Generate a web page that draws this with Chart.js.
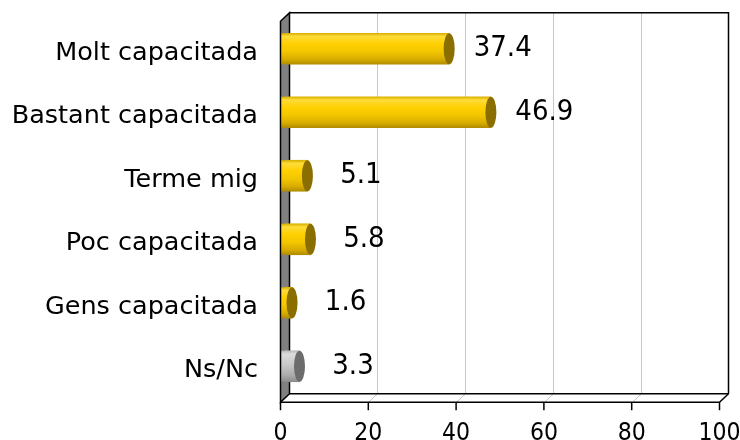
<!DOCTYPE html>
<html>
<head>
<meta charset="utf-8">
<script src="https://cdn.jsdelivr.net/npm/chart.js@4.4.1/dist/chart.umd.min.js"></script>
<style>
  html, body { margin: 0; padding: 0; background: #fff; }
  #wrap { width: 740px; height: 440px; }
</style>
</head>
<body>
<div id="wrap"><canvas id="myChart" width="740" height="440"></canvas></div>
<script>
// data
const categories = ['Molt capacitada', 'Bastant capacitada', 'Terme mig', 'Poc capacitada', 'Gens capacitada', 'Ns/Nc'];
const values = [37.4, 46.9, 5.1, 5.8, 1.6, 3.3];
const xTicks = [0, 20, 40, 60, 80, 100];
const grayCategory = 'Ns/Nc';

// 3d depth of the box (back plane is +DX,-DY from the front plane, bars sit in the middle)
const DX = 9;
const DY = 8.5;
const BAR_H = 31;

function bodyGradient(ctx, yc, gray) {
    const g = ctx.createLinearGradient(0, yc - BAR_H / 2, 0, yc + BAR_H / 2);
    if (gray) {
        g.addColorStop(0, '#b8b8b8');
        g.addColorStop(0.1, '#dcdcdc');
        g.addColorStop(0.45, '#c8c8c8');
        g.addColorStop(0.8, '#aaaaaa');
        g.addColorStop(1, '#8c8c8c');
    } else {
        g.addColorStop(0, '#d8b000');
        g.addColorStop(0.1, '#ffdc3a');
        g.addColorStop(0.35, '#ffd000');
        g.addColorStop(0.6, '#f2c600');
        g.addColorStop(0.85, '#d6ab00');
        g.addColorStop(1, '#b08c00');
    }
    return g;
}

// no automatic label padding, the box is laid out by hand
function noPad(s) {
    s.paddingTop = 0;
    s.paddingBottom = 0;
    s.paddingLeft = 0;
    s.paddingRight = 0;
}

const box3d = {
    id: 'box3d',
    beforeDatasetsDraw(chart) {
        const ctx = chart.ctx;
        const xs = chart.scales.x;
        const a = chart.chartArea;
        const fl = xs.getPixelForValue(0) - DX / 2, fr = xs.getPixelForValue(100) - DX / 2;
        const ft = a.top + DY / 2, fb = a.bottom + DY / 2;
        const bl = fl + DX, br = fr + DX, bt = ft - DY, bb = fb - DY;
        ctx.save();

        // grid lines on back wall + floor
        ctx.strokeStyle = '#c8c8c8';
        ctx.lineWidth = 1;
        xTicks.forEach(v => {
            if (v === 0 || v === 100) return;
            const x = Math.round(xs.getPixelForValue(v) + DX / 2) + 0.5;
            ctx.beginPath();
            ctx.moveTo(x, bt);
            ctx.lineTo(x, bb);
            ctx.lineTo(x - DX, fb);
            ctx.stroke();
        });

        ctx.strokeStyle = '#000';
        ctx.lineWidth = 1.5;
        // back wall top/right edges and back floor edge
        ctx.beginPath();
        ctx.moveTo(bl, bt);
        ctx.lineTo(br, bt);
        ctx.lineTo(br, bb);
        ctx.moveTo(bl, bb);
        ctx.lineTo(br, bb);
        ctx.stroke();

        // left wall
        ctx.fillStyle = '#808080';
        ctx.beginPath();
        ctx.moveTo(fl, ft);
        ctx.lineTo(bl, bt);
        ctx.lineTo(bl, bb);
        ctx.lineTo(fl, fb);
        ctx.closePath();
        ctx.fill();
        ctx.stroke();

        // floor front edge
        ctx.beginPath();
        ctx.moveTo(fl, fb);
        ctx.lineTo(fr, fb);
        ctx.lineTo(br, bb);
        ctx.stroke();

        // tick marks
        xTicks.forEach(v => {
            const x = xs.getPixelForValue(v) - DX / 2;
            ctx.beginPath();
            ctx.moveTo(x, fb);
            ctx.lineTo(x, fb + 8);
            ctx.stroke();
        });
        ctx.restore();
    },
    afterDatasetsDraw(chart) {
        const ctx = chart.ctx;
        const meta = chart.getDatasetMeta(0);
        const xs = chart.scales.x;
        const fl = xs.getPixelForValue(0) - DX / 2;
        ctx.save();
        meta.data.forEach((bar, i) => {
            const gray = categories[i] === grayCategory;
            const top = bar.y - BAR_H / 2;
            // body part in front of the wall start
            ctx.fillStyle = bodyGradient(ctx, bar.y, gray);
            ctx.fillRect(fl + 1, top, bar.base - fl, BAR_H);
            // end cap
            ctx.fillStyle = gray ? '#6c6c6c' : '#8b6e00';
            ctx.beginPath();
            ctx.ellipse(bar.x, bar.y, 5.5, BAR_H / 2, 0, 0, Math.PI * 2);
            ctx.fill();
            // value label
            ctx.fillStyle = '#000';
            ctx.font = "29px 'DejaVu Sans Condensed', 'DejaVu Sans', sans-serif";
            ctx.textAlign = 'center';
            ctx.textBaseline = 'middle';
            ctx.fillText(values[i].toFixed(1), bar.x - DX / 2 + 58, bar.y);
        });
        ctx.restore();
    }
};

const ctx = document.getElementById('myChart');

new Chart(ctx, {
    type: 'bar',
    data: {
        labels: categories,
        datasets: [{
            data: values,
            barThickness: BAR_H,
            borderWidth: 0,
            backgroundColor: (c) => {
                const chart = c.chart;
                if (!chart.chartArea) return '#ffcc00';
                const yc = chart.scales.y.getPixelForValue(c.dataIndex);
                return bodyGradient(chart.ctx, yc, categories[c.dataIndex] === grayCategory);
            }
        }]
    },
    options: {
        indexAxis: 'y',
        responsive: false,
        animation: false,
        devicePixelRatio: 1,
        layout: { padding: { top: 17, right: 16, left: 0, bottom: 0 } },
        plugins: { legend: { display: false }, tooltip: { enabled: false } },
        scales: {
            x: {
                type: 'linear',
                min: 0,
                max: 100,
                afterFit: (s) => { s.height = 42; noPad(s); },
                afterBuildTicks: (s) => { s.ticks = xTicks.map(v => ({ value: v })); },
                grid: { display: false, drawTicks: false },
                border: { display: false },
                ticks: {
                    color: '#000',
                    padding: 21,
                    labelOffset: -DX / 2,
                    maxRotation: 0,
                    autoSkip: false,
                    font: { family: "'DejaVu Sans Condensed', 'DejaVu Sans', sans-serif", size: 24.5 }
                }
            },
            y: {
                type: 'category',
                afterFit: (s) => { s.width = 285; noPad(s); },
                grid: { display: false, drawTicks: false },
                border: { display: false },
                ticks: {
                    color: '#000',
                    padding: 27,
                    labelOffset: DY / 2,
                    font: { family: "'DejaVu Sans', sans-serif", size: 25.5 }
                }
            }
        }
    },
    plugins: [box3d]
});
</script>
</body>
</html>
